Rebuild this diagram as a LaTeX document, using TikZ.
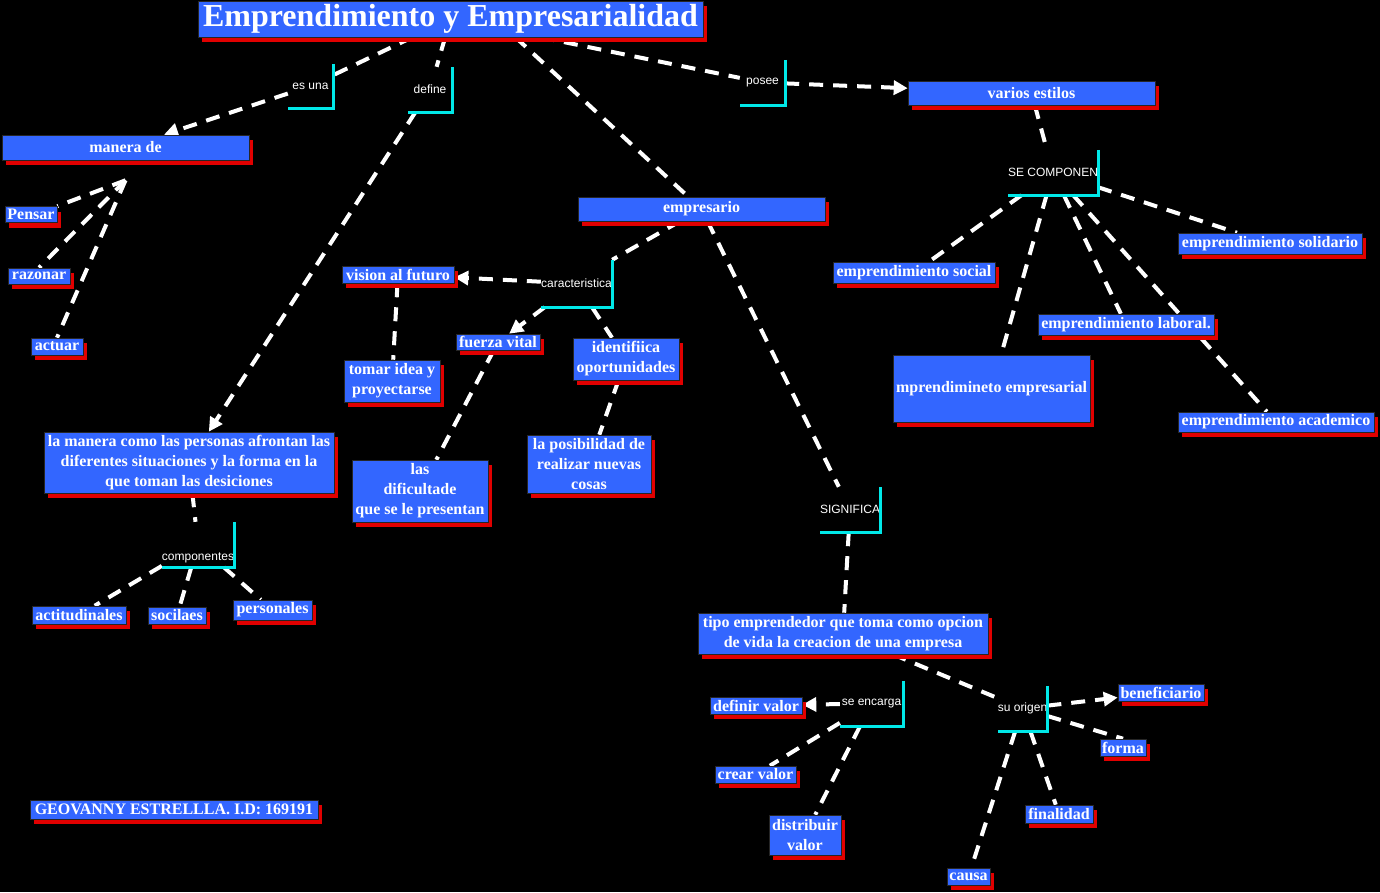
\documentclass[tikz,border=0pt]{standalone}
\usepackage{fontspec}
\setmainfont{Liberation Serif}
\setsansfont{Liberation Sans}
\usetikzlibrary{arrows.meta, shadows}

\definecolor{boxblue}{RGB}{51,102,255}
\definecolor{shadowred}{RGB}{225,0,0}
\definecolor{linkcyan}{RGB}{0,232,232}

\pgfdeclarelayer{bg}
\pgfdeclarelayer{links}
\pgfsetlayers{bg,links,main}

\tikzset{
  concept/.style={fill=boxblue, draw=black!85, line width=0.6pt, text=white,
    font=\fontsize{16}{20}\selectfont\bfseries, inner sep=1pt, align=center,
    drop shadow={shadow xshift=4pt, shadow yshift=-5pt, fill=shadowred, opacity=1}},
  linkword/.style={text=white, font=\sffamily\fontsize{12}{14}\selectfont, inner sep=0pt},
  bracket/.style={linkcyan, line width=3pt},
  link/.style={white, line width=4pt, dash pattern=on 14pt off 10pt},
  arrowlink/.style={link, -{Triangle[length=14pt, width=14pt]}},
}

\begin{document}
\begin{tikzpicture}[x=1pt, y=-1pt]

    % Background
    \begin{pgfonlayer}{bg}
    \fill[black] (0,0) rectangle (1380,892);
    \end{pgfonlayer}
    \useasboundingbox (0,0) rectangle (1380,892);

    % Title
    \node[concept, font=\fontsize{32}{36}\selectfont\bfseries, minimum width=505, minimum height=36] (title) at (450.5,19) {Emprendimiento y Empresarialidad};

    % Left branch
    \node[concept, minimum width=247, minimum height=25] (manera) at (125.5,147.5) {manera de};
    \node[concept, minimum width=52, minimum height=16] (pensar) at (31,214.5) {Pensar};
    \node[concept, minimum width=62, minimum height=16] (razonar) at (39,276) {razonar};
    \node[concept, minimum width=52, minimum height=17] (actuar) at (57,346.5) {actuar};
    \node[concept, minimum width=290, minimum height=61] (lamanera) at (189,462.5) {la manera como las personas afrontan las\\diferentes situaciones y la forma en la\\que toman las desiciones};
    \node[concept, minimum width=94, minimum height=18] (actitud) at (79,615) {actitudinales};
    \node[concept, minimum width=58, minimum height=17] (socilaes) at (177,615.5) {socilaes};
    \node[concept, minimum width=79, minimum height=20] (personales) at (272.5,610) {personales};
    \node[concept, minimum width=288, minimum height=19] (geovanny) at (174,809.5) {GEOVANNY ESTRELLLA. I.D: 169191};

    % Right branch
    \node[concept, minimum width=247, minimum height=24] (varios) at (1031.5,93) {varios estilos};
    \node[concept, minimum width=184, minimum height=21] (solidario) at (1270,243.5) {emprendimiento solidario};
    \node[concept, minimum width=162, minimum height=21] (social) at (914,272.5) {emprendimiento social};
    \node[concept, minimum width=176, minimum height=21] (laboral) at (1126,324.5) {emprendimiento laboral.};
    \node[concept, minimum width=197, minimum height=67] (empresarial) at (991.5,388.5) {mprendimineto empresarial};
    \node[concept, minimum width=196, minimum height=20] (academico) at (1276,422) {emprendimiento academico};

    % Middle branch
    \node[concept, minimum width=247, minimum height=24] (empresario) at (701.5,209) {empresario};
    \node[concept, minimum width=112, minimum height=17] (vision) at (398,274.5) {vision al futuro};
    \node[concept, minimum width=84, minimum height=16] (fuerza) at (498,342) {fuerza vital};
    \node[concept, minimum width=106, minimum height=42] (identif) at (626,359) {identifiica\\oportunidades};
    \node[concept, minimum width=96, minimum height=42] (tomar) at (392,381) {tomar idea y\\proyectarse};
    \node[concept, minimum width=136, minimum height=62] (dificultade) at (420,491) {las\\dificultade\\que se le presentan};
    \node[concept, minimum width=124, minimum height=58] (posibilidad) at (589,464) {la posibilidad de\\realizar nuevas\\cosas};
    \node[concept, minimum width=290, minimum height=41] (tipo) at (843,633.5) {tipo emprendedor que toma como opcion\\de vida la creacion de una empresa};
    \node[concept, minimum width=92, minimum height=17] (definir) at (756,705.5) {definir valor};
    \node[concept, minimum width=81, minimum height=17] (crear) at (755.5,774.5) {crear valor};
    \node[concept, minimum width=72, minimum height=40] (distribuir) at (805,835) {distribuir\\valor};
    \node[concept, minimum width=86, minimum height=17] (beneficiario) at (1161,692.5) {beneficiario};
    \node[concept, minimum width=46, minimum height=17] (forma) at (1123,747.5) {forma};
    \node[concept, minimum width=68, minimum height=18] (finalidad) at (1059,814) {finalidad};
    \node[concept, minimum width=43, minimum height=17] (causa) at (968.5,876.5) {causa};

    % Linking words
    \node[linkword, minimum width=45, minimum height=44] (esuna) at (310.5,86) {es una};
    \node[linkword, minimum width=44, minimum height=45] (define) at (430,89.5) {define};
    \node[linkword, minimum width=45, minimum height=45] (posee) at (762.5,82.5) {posee};
    \node[linkword, minimum width=90, minimum height=45] (secomponen) at (1053,172.5) {SE COMPONEN};
    \node[linkword, minimum width=71, minimum height=47] (caract) at (576.5,283.5) {caracteristica};
    \node[linkword, minimum width=72, minimum height=45, text height=34pt, text depth=2pt] (componentes) at (198,544.5) {componentes};
    \node[linkword, minimum width=60, minimum height=45] (significa) at (850,509.5) {SIGNIFICA};
    \node[linkword, minimum width=63, minimum height=45] (seencarga) at (871.5,703.5) {se encarga};
    \node[linkword, minimum width=49, minimum height=45] (suorigen) at (1022.5,708.5) {su origen};

    % Cyan brackets
    \foreach \n in {esuna, define, posee, secomponen, caract, componentes, significa, seencarga, suorigen}
        \draw[bracket] (\n.north east) |- (\n.south west);

    \begin{pgfonlayer}{links}
    % Connectors from the title
    \draw[link] (title) -- (esuna);
    \draw[arrowlink] (esuna) -- (manera);
    \draw[link] (title) -- (define);
    \draw[arrowlink] (define) -- (lamanera);
    \draw[link] ([xshift=65pt]title.south) -- (empresario);
    \draw[link] (title) -- (posee);
    \draw[arrowlink] (posee) -- (varios);

    % manera de
    \draw[link] ([yshift=-20pt]manera.south) -- (pensar.north east);
    \draw[link] ([yshift=-20pt]manera.south) -- (razonar.north);
    \draw[link] ([yshift=-20pt]manera.south) -- (actuar.north);

    % componentes
    \draw[link] (lamanera) -- (componentes);
    \draw[link] (componentes) -- (actitud);
    \draw[link] (componentes) -- (socilaes);
    \draw[link] (componentes) -- (personales);

    % estilos
    \draw[link] (varios) -- (secomponen);
    \draw[link] (secomponen) -- (social);
    \draw[link] (secomponen) -- (empresarial);
    \draw[link] (secomponen) -- (laboral);
    \draw[link] (secomponen) -- (academico);
    \draw[link] (secomponen) -- (solidario);

    % empresario
    \draw[link] (empresario) -- (caract.north east);
    \draw[arrowlink] (caract) -- (vision);
    \draw[arrowlink] (caract) -- (fuerza);
    \draw[link] (caract) -- (identif);
    \draw[link] (vision) -- (tomar);
    \draw[link] (fuerza) -- (dificultade);
    \draw[link] (identif) -- (posibilidad);
    \draw[link] (empresario) -- (significa);
    \draw[link] (significa) -- (tipo);

    % tipo emprendedor
    \draw[link] (tipo) -- (suorigen);
    \draw[arrowlink] (suorigen) -- (beneficiario);
    \draw[link] (suorigen) -- (forma.north);
    \draw[link] (suorigen) -- (finalidad);
    \draw[link] (suorigen) -- (causa);
    \draw[arrowlink] (seencarga) -- (definir);
    \draw[link] (seencarga) -- (crear);
    \draw[link] (seencarga) -- (distribuir);
    \end{pgfonlayer}

\end{tikzpicture}
\end{document}
